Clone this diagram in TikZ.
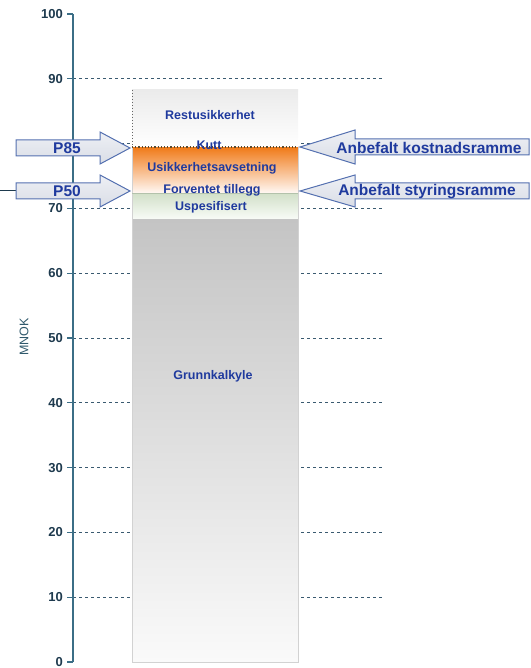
\documentclass[tikz,border=0pt]{standalone}
\usepackage{fontspec}
\setmainfont{Liberation Sans}
\definecolor{axisc}{HTML}{3B6E86}
\definecolor{tickc}{HTML}{1E3A4E}
\definecolor{labc}{HTML}{1F3A9E}
\definecolor{gridc}{HTML}{3A5A70}
\definecolor{arrowb}{HTML}{5470B0}
\definecolor{arrowfa}{HTML}{EEF0F5}
\definecolor{arrowfb}{HTML}{D9DDE6}
\definecolor{graytop}{HTML}{C4C4C4}
\definecolor{graybot}{HTML}{FAFAFA}
\definecolor{greentop}{HTML}{D3E1CA}
\definecolor{greenbot}{HTML}{F7FAF5}
\definecolor{orangetop}{HTML}{F07A18}
\definecolor{orangemid}{HTML}{FAC8A0}
\definecolor{orangebot}{HTML}{FFF8F4}
\definecolor{resttop}{HTML}{EBEBEB}
\definecolor{barborder}{HTML}{D2D2D2}
\definecolor{ftline}{HTML}{B3C2AB}
\definecolor{kuttc}{HTML}{5A4A30}
\begin{document}
\begin{tikzpicture}[x=1pt,y=-1pt,
  barlab/.style={text=labc,font=\fontsize{12.5}{14}\selectfont\bfseries,inner sep=0pt},
  arrlab/.style={text=labc,font=\fontsize{15.5}{18}\selectfont\bfseries,inner sep=0pt},
  ticklab/.style={text=tickc,font=\fontsize{13}{15}\selectfont\bfseries,anchor=east,inner sep=0pt},
  gridline/.style={draw=gridc,dash pattern=on 3pt off 3pt,line width=0.8pt},
  axisline/.style={draw=axisc,line width=1.2pt},
  blockarrow/.style={draw=arrowb,line width=1pt,top color=arrowfa,bottom color=arrowfb},
]
\useasboundingbox (0,0) rectangle (530,668);
% grid lines
\foreach \v in {10,20,...,90}{
  \draw[gridline] (73,{662-6.48*\v}) -- (383,{662-6.48*\v});
}
% axis
\draw[axisline] (73,14) -- (73,662);
\foreach \v in {0,10,...,100}{
  \draw[axisline] (67,{662-6.48*\v}) -- (73,{662-6.48*\v});
}
\foreach \v in {0,10,20,30,40,50,60,70,90,100}{
  \node[ticklab] (t\v) at (63,{662-6.48*\v}) {\v};
}
\node[text=axisc!80!black,font=\fontsize{12.5}{14}\selectfont,rotate=90,inner sep=0pt] (mnok) at (24,337) {MNOK};
% bar segments
\shade[top color=graytop,bottom color=graybot] (132,218) rectangle (298,662);
\shade[top color=greentop,bottom color=greenbot] (132,194) rectangle (298,218);
\shade[top color=orangetop,middle color=orangemid,bottom color=orangebot] (132,147) rectangle (298,193);
\shade[top color=resttop,bottom color=white] (132,90) rectangle (298,147);
\draw[barborder,line width=1pt] (132,147) -- (132,662) -- (298,662) -- (298,147);
\draw[ftline,line width=1.3pt] (132,193.5) -- (298,193.5);
\draw[kuttc,dotted,line width=1.2pt] (132,147) -- (298,147);
\draw[gray!80!black,dotted,line width=1pt] (132,90) -- (132,147);
% bar labels
\node[barlab] (rest) at (210,115) {Restusikkerhet};
\node[barlab] (kutt) at (209,145) {Kutt};
\node[barlab] (usik) at (212,168) {Usikkerhetsavsetning};
\node[barlab] (fort) at (212,190) {Forventet tillegg};
\node[barlab] (uspe) at (211,207) {Uspesifisert};
\node[barlab] (grun) at (213,376) {Grunnkalkyle};
% left line
\draw[tickc,line width=1pt] (0,191) -- (16,191);
% left block arrows
\draw[blockarrow] (16,140) -- (100,140) -- (100,132) -- (130,148) -- (100,164) -- (100,156) -- (16,156) -- cycle;
\node[arrlab] (p85) at (67,148) {P85};
\draw[blockarrow] (16,183) -- (100,183) -- (100,175) -- (130,191) -- (100,207) -- (100,199) -- (16,199) -- cycle;
\node[arrlab] (p50) at (67,191) {P50};
% right block arrows
\draw[blockarrow] (529,139) -- (355,139) -- (355,130) -- (300,147) -- (355,164) -- (355,155) -- (529,155) -- cycle;
\node[arrlab] (akost) at (429,148) {Anbefalt kostnadsramme};
\draw[blockarrow] (529,183) -- (355,183) -- (355,175) -- (300,191) -- (355,207) -- (355,199) -- (529,199) -- cycle;
\node[arrlab] (astyr) at (427,192) {Anbefalt styringsramme};
\end{tikzpicture}
\end{document}
